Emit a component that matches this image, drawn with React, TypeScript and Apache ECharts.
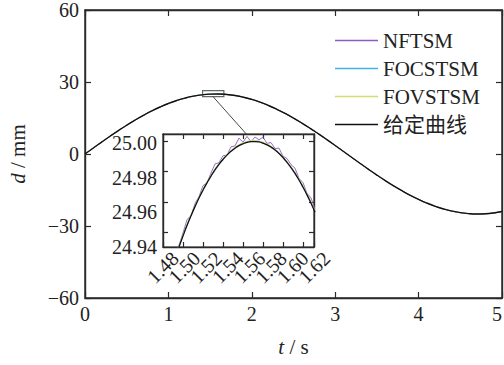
import React, { useEffect, useRef } from "react";
import * as echarts from "echarts";

const seriesNames = ["NFTSM", "FOCSTSM", "FOVSTSM", "给定曲线"];
const seriesColors = ["#8e5cc0", "#3cb4e6", "#d4dc70", "#111111"];

const mainTime = [
  0, 0.1, 0.2, 0.3, 0.4, 0.5, 0.6, 0.7, 0.8, 0.9, 1.0, 1.1, 1.2, 1.3, 1.4, 1.5, 1.6, 1.7, 1.8, 1.9,
  2.0, 2.1, 2.2, 2.3, 2.4, 2.5, 2.6, 2.7, 2.8, 2.9, 3.0, 3.1, 3.2, 3.3, 3.4, 3.5, 3.6, 3.7, 3.8, 3.9,
  4.0, 4.1, 4.2, 4.3, 4.4, 4.5, 4.6, 4.7, 4.8, 4.9, 5.0,
];
const mainRef = [
  0, 2.5, 4.97, 7.39, 9.74, 11.99, 14.12, 16.11, 17.93, 19.58, 21.04, 22.28, 23.3, 24.09, 24.64, 24.94,
  24.99, 24.79, 24.35, 23.66, 22.73, 21.58, 20.21, 18.64, 16.89, 14.96, 12.89, 10.69, 8.37, 5.98, 3.53,
  1.04, -1.46, -3.94, -6.39, -8.77, -11.06, -13.25, -15.3, -17.2, -18.92, -20.46, -21.79, -22.9, -23.79,
  -24.44, -24.84, -25.0, -24.9, -24.56, -23.97,
];

const insetTime = [
  1.48, 1.484, 1.488, 1.492, 1.496, 1.5, 1.504, 1.508, 1.512, 1.516, 1.52, 1.524, 1.528, 1.532, 1.536,
  1.54, 1.544, 1.548, 1.552, 1.556, 1.56, 1.564, 1.568, 1.572, 1.576, 1.58, 1.584, 1.588, 1.592, 1.596,
  1.6, 1.604, 1.608, 1.612, 1.616, 1.62, 1.624, 1.628, 1.632,
];
const insetRef = [
  24.8969, 24.9058, 24.9143, 24.9224, 24.9301, 24.9373, 24.9442, 24.9507, 24.9568, 24.9625, 24.9677,
  24.9726, 24.9771, 24.9812, 24.9849, 24.9881, 24.991, 24.9935, 24.9956, 24.9973, 24.9985, 24.9994,
  24.9999, 25.0, 24.9997, 24.9989, 24.9978, 24.9963, 24.9944, 24.9921, 24.9893, 24.9862, 24.9827,
  24.9788, 24.9745, 24.9697, 24.9646, 24.9591, 24.9532,
];
const insetNFTSM = [
  24.8979, 24.9078, 24.9143, 24.9254, 24.9311, 24.9393, 24.9482, 24.9507, 24.9588, 24.9635, 24.9707,
  24.9726, 24.9791, 24.9852, 24.9859, 24.9906, 24.991, 24.9965, 24.9971, 25.0023, 24.9995, 25.0034,
  24.9999, 25.003, 25.0012, 25.0029, 24.9988, 24.9993, 24.9954, 24.9956, 24.9903, 24.9887, 24.9847,
  24.9823, 24.9755, 24.9727, 24.9656, 24.9626, 24.9552,
];
const insetFOCSTSM = [
  24.8973, 24.9062, 24.9147, 24.9229, 24.9305, 24.9377, 24.9446, 24.9512, 24.9572, 24.9629, 24.9681,
  24.9731, 24.9775, 24.9816, 24.9853, 24.9886, 24.9914, 24.9939, 24.996, 24.9978, 24.9989, 24.9998,
  25.0003, 25.0004, 25.0002, 24.9993, 24.9982, 24.9967, 24.9949, 24.9925, 24.9897, 24.9866, 24.9831,
  24.9793, 24.9749, 24.9701, 24.965, 24.9596, 24.9536,
];
const insetFOVSTSM = [
  24.8976, 24.9065, 24.915, 24.9231, 24.9308, 24.938, 24.9449, 24.9514, 24.9575, 24.9632, 24.9684,
  24.9733, 24.9778, 24.9819, 24.9856, 24.9888, 24.9917, 24.9942, 24.9963, 24.998, 24.9992, 25.0001,
  25.0006, 25.0007, 25.0004, 24.9996, 24.9985, 24.997, 24.9951, 24.9928, 24.99, 24.9869, 24.9834,
  24.9795, 24.9752, 24.9704, 24.9653, 24.9598, 24.9539,
];

const insetXLabelsA = [1.48, 1.52, 1.56, 1.6];
const insetXLabelsB = [1.5, 1.54, 1.58, 1.62];
const insetYTicks = [24.94, 24.96, 24.98, 25.0];

const SERIF = "Liberation Serif, Times New Roman, serif";
const AXIS_COLOR = "#2a2a2a";
const TEXT_COLOR = "#222";

function pairs(xs: number[], ys: number[]) {
  return xs.map((x, i) => [x, ys[i]]);
}

const minus = (v: number) => (v < 0 ? "\u2212" + Math.abs(v) : String(v));

export default function App() {
  const ref = useRef<HTMLDivElement>(null);
  useEffect(() => {
    if (!ref.current) return;
    const chart = echarts.init(ref.current, null, { renderer: "svg" });
    const tickStyle = { inside: true, length: 6, lineStyle: { color: AXIS_COLOR, width: 1.2 } };
    const lineStyle = { show: true, onZero: false, lineStyle: { color: AXIS_COLOR, width: 1.4 } };
    const labelFont = { fontFamily: SERIF, fontSize: 20, color: TEXT_COLOR };

    const insetData = [insetNFTSM, insetFOCSTSM, insetFOVSTSM, insetRef];

    const insetLabelAxis = (vals: number[]) => ({
      gridIndex: 2, type: "value", position: "bottom", min: 1.48, max: 1.62, interval: 0.02,
      axisLine: { show: false, onZero: false }, axisTick: { show: false }, splitLine: { show: false },
      axisLabel: {
        ...labelFont, rotate: 45, margin: 8, showMinLabel: true, showMaxLabel: true,
        hideOverlap: false, customValues: vals,
        formatter: (v: number) => v.toFixed(2),
      },
      z: 6,
    });

    const option: any = {
      animation: false,
      backgroundColor: "#fff",
      grid: [
        {
          left: 85, right: 2, top: 10, bottom: 67, show: true, borderColor: AXIS_COLOR, borderWidth: 1.4,
          outerBoundsMode: "none", containLabel: false,
        },
        {
          left: 163, right: 190, top: 134, bottom: 118, show: true,
          borderColor: AXIS_COLOR, borderWidth: 1.2, backgroundColor: "#fff", z: 5,
          outerBoundsMode: "none", containLabel: false,
        },
        { left: 175, right: 177.5, top: 143, bottom: 118, show: false, outerBoundsMode: "none", containLabel: false },
      ],
      xAxis: [
        {
          gridIndex: 0, type: "value", position: "bottom", min: 0, max: 5, interval: 1,
          axisLine: lineStyle, axisTick: tickStyle, splitLine: { show: false },
          axisLabel: { ...labelFont, margin: 6, alignMaxLabel: "right" },
          name: "{i|t} / s", nameLocation: "middle", nameGap: 38,
          nameTextStyle: {
            fontFamily: SERIF, fontSize: 21, color: TEXT_COLOR,
            rich: { i: { fontFamily: SERIF, fontSize: 21, fontStyle: "italic", color: TEXT_COLOR } },
          },
        },
        {
          gridIndex: 0, type: "value", position: "top", min: 0, max: 5, interval: 1,
          axisLine: lineStyle, axisTick: tickStyle, splitLine: { show: false }, axisLabel: { show: false },
        },
        {
          gridIndex: 1, type: "value", position: "bottom", min: 1.48, max: 1.631, interval: 0.02,
          axisLine: lineStyle, axisTick: { ...tickStyle, length: 5 }, splitLine: { show: false },
          axisLabel: { show: false }, z: 6,
        },
        {
          gridIndex: 1, type: "value", position: "top", min: 1.48, max: 1.631, interval: 0.02,
          axisLine: lineStyle, axisTick: { ...tickStyle, length: 5 }, splitLine: { show: false },
          axisLabel: { show: false }, z: 6,
        },
        insetLabelAxis(insetXLabelsA),
        insetLabelAxis(insetXLabelsB),
      ],
      yAxis: [
        {
          gridIndex: 0, type: "value", position: "left", min: -60, max: 60, interval: 30,
          axisLine: lineStyle, axisTick: tickStyle, splitLine: { show: false },
          axisLabel: { ...labelFont, margin: 6, formatter: minus },
          name: "{i|d} / mm", nameLocation: "middle", nameGap: 57, nameRotate: 90,
          nameTextStyle: {
            fontFamily: SERIF, fontSize: 21, color: TEXT_COLOR,
            rich: { i: { fontFamily: SERIF, fontSize: 21, fontStyle: "italic", color: TEXT_COLOR } },
          },
        },
        {
          gridIndex: 0, type: "value", position: "right", min: -60, max: 60, interval: 30,
          axisLine: lineStyle, axisTick: tickStyle, splitLine: { show: false }, axisLabel: { show: false },
        },
        {
          gridIndex: 1, type: "value", position: "left", min: 24.93, max: 25.005,
          axisLine: lineStyle, axisTick: { ...tickStyle, length: 5, customValues: insetYTicks },
          splitLine: { show: false }, axisLabel: { show: false }, z: 6,
        },
        {
          gridIndex: 1, type: "value", position: "right", min: 24.93, max: 25.005,
          axisLine: lineStyle, axisTick: { ...tickStyle, length: 5, customValues: insetYTicks },
          splitLine: { show: false }, axisLabel: { show: false }, z: 6,
        },
        {
          gridIndex: 2, type: "value", position: "left", min: 24.94, max: 25.0, interval: 0.02, offset: 12,
          axisLine: { show: false, onZero: false }, axisTick: { show: false }, splitLine: { show: false },
          axisLabel: {
            ...labelFont, margin: 6, showMinLabel: true, showMaxLabel: true, hideOverlap: false,
            formatter: (v: number) => v.toFixed(2),
          },
          z: 6,
        },
      ],
      legend: {
        orient: "vertical",
        left: 330,
        top: 25,
        icon: "rect",
        itemWidth: 43,
        itemHeight: 1.5,
        itemGap: 7,
        data: seriesNames,
        textStyle: {
          fontFamily: "Liberation Serif, Noto Sans CJK SC, serif",
          fontSize: 21,
          lineHeight: 21,
          color: TEXT_COLOR,
        },
      },
      series: [
        ...seriesNames.map((name, i) => ({
          name,
          type: "line",
          xAxisIndex: 0,
          yAxisIndex: 0,
          data: pairs(mainTime, mainRef),
          showSymbol: false,
          smooth: true,
          color: seriesColors[i],
          lineStyle: { color: seriesColors[i], width: i === 3 ? 1.4 : 1 },
          z: 2,
          ...(i === 3
            ? {
                markArea: {
                  silent: true,
                  itemStyle: { color: "rgba(0,0,0,0)", borderColor: "#666", borderWidth: 1.2 },
                  data: [[{ coord: [1.41, 26.4] }, { coord: [1.665, 23.9] }]],
                },
                markLine: {
                  silent: true,
                  symbol: ["none", "none"],
                  label: { show: false },
                  lineStyle: { color: "#333", width: 0.9, type: "solid" },
                  data: [[{ coord: [1.535, 23.9] }, { coord: [1.935, 8.3] }]],
                },
              }
            : {}),
        })),
        ...seriesNames.map((name, i) => ({
          name,
          type: "line",
          xAxisIndex: 2,
          yAxisIndex: 2,
          data: pairs(insetTime, insetData[i]),
          showSymbol: false,
          smooth: i === 3,
          color: seriesColors[i],
          lineStyle: { color: seriesColors[i], width: i === 3 ? 1.3 : 0.9 },
          z: 7,
        })),
      ],
    };
    chart.setOption(option);
    return () => chart.dispose();
  }, []);
  return (
    <div
      ref={ref}
      style={{ position: "absolute", left: 0, top: 0, width: 504, height: 365, background: "#fff" }}
    />
  );
}
